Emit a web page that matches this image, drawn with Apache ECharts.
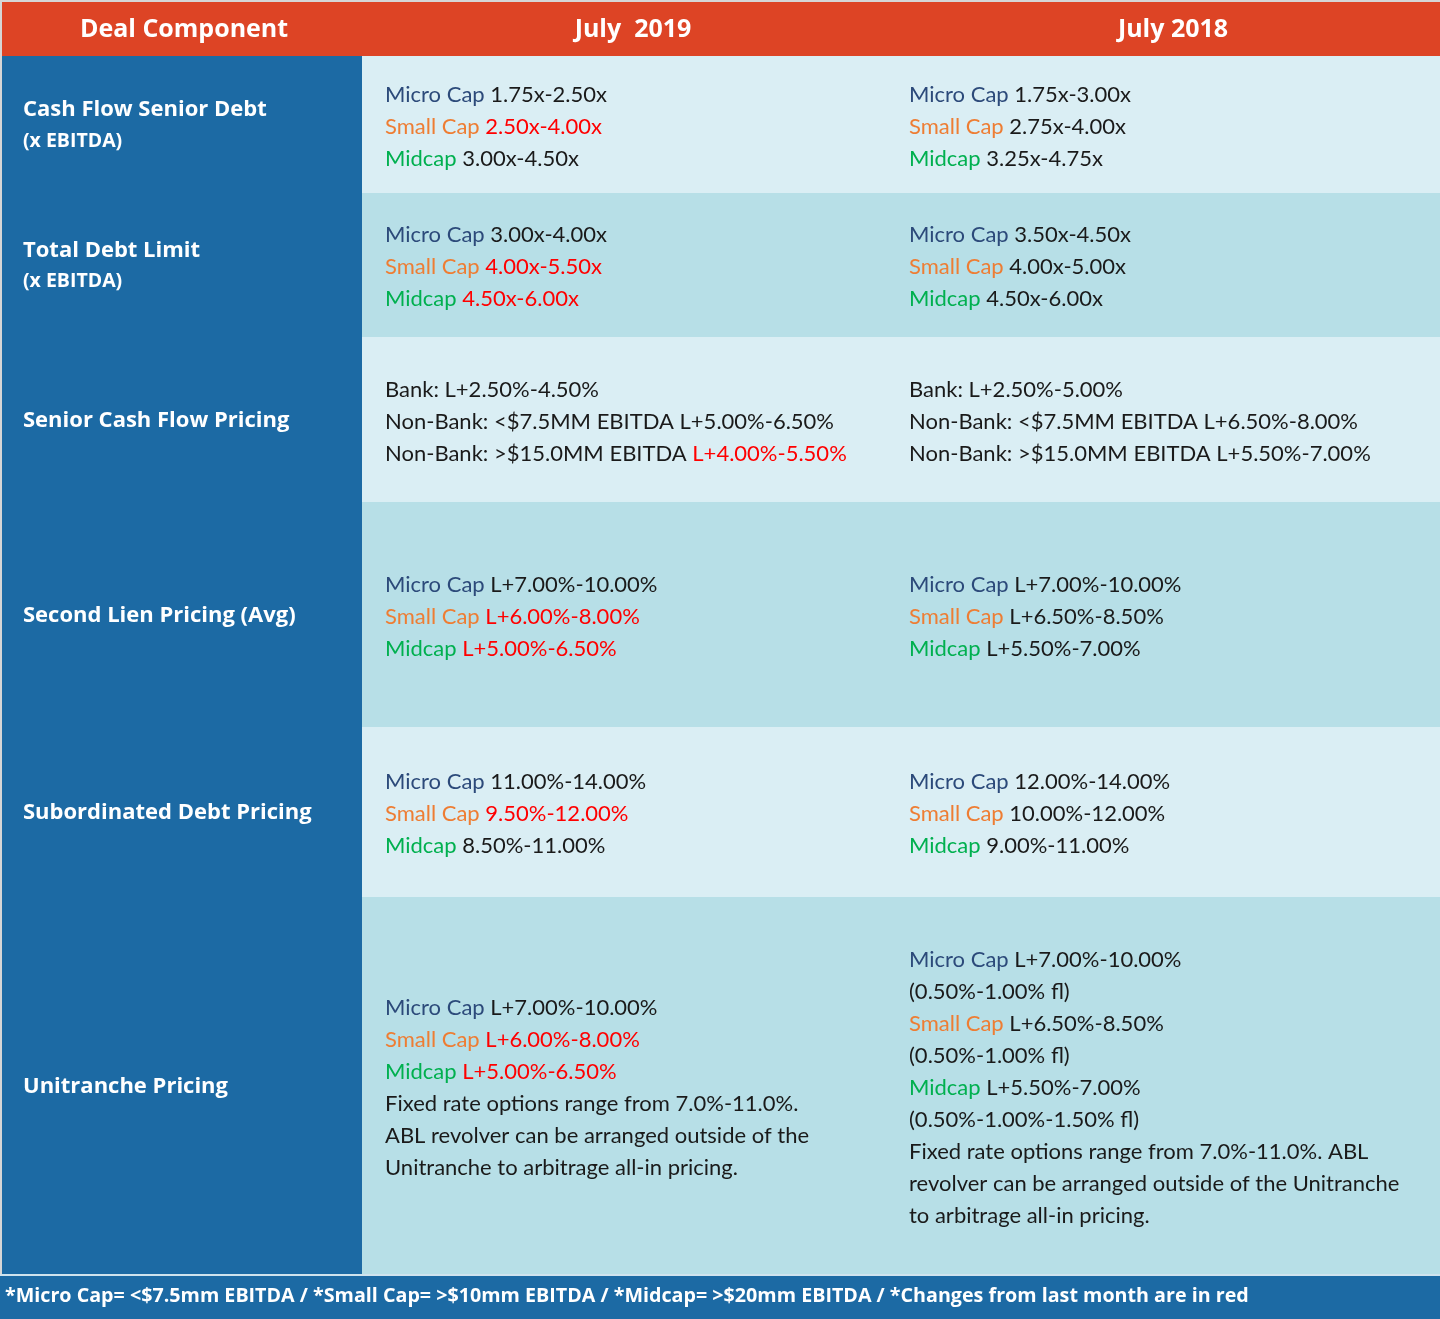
<!DOCTYPE html>
<html lang="en">
<head>
    <meta charset="UTF-8">
    <title>Deal Component July 2019 vs July 2018</title>
    <script src="https://cdn.jsdelivr.net/npm/echarts@6/dist/echarts.min.js"></script>
    <style>
        html,body{
            margin:0;
            padding:0;
            background:#fff;
        }
        #main{width:1440px;height:1319px}
    </style>
</head>
<body>
    <div id="main"></div>
    <script>
        // table content ({m|..} micro cap, {s|..} small cap, {g|..} midcap, {r|..} changed = red)
        var headers = ['Deal Component', 'July  2019', 'July 2018'];
        var components = [
            ['Cash Flow Senior Debt', '(x EBITDA)'],
            ['Total Debt Limit', '(x EBITDA)'],
            ['Senior Cash Flow Pricing'],
            ['Second Lien Pricing (Avg)'],
            ['Subordinated Debt Pricing'],
            ['Unitranche Pricing']
        ];
        var july2019 = [
            ['{m|Micro Cap} 1.75x-2.50x', '{s|Small Cap} {r|2.50x-4.00x}', '{g|Midcap} 3.00x-4.50x'],
            ['{m|Micro Cap} 3.00x-4.00x', '{s|Small Cap} {r|4.00x-5.50x}', '{g|Midcap} {r|4.50x-6.00x}'],
            ['Bank: L+2.50%-4.50%', 'Non-Bank: <$7.5MM EBITDA L+5.00%-6.50%', 'Non-Bank: >$15.0MM EBITDA {r|L+4.00%-5.50%}'],
            ['{m|Micro Cap} L+7.00%-10.00%', '{s|Small Cap} {r|L+6.00%-8.00%}', '{g|Midcap} {r|L+5.00%-6.50%}'],
            ['{m|Micro Cap} 11.00%-14.00%', '{s|Small Cap} {r|9.50%-12.00%}', '{g|Midcap} 8.50%-11.00%'],
            ['{m|Micro Cap} L+7.00%-10.00%', '{s|Small Cap} {r|L+6.00%-8.00%}', '{g|Midcap} {r|L+5.00%-6.50%}',
             'Fixed rate options range from 7.0%-11.0%.', 'ABL revolver can be arranged outside of the',
             'Unitranche to arbitrage all-in pricing.']
        ];
        var july2018 = [
            ['{m|Micro Cap} 1.75x-3.00x', '{s|Small Cap} 2.75x-4.00x', '{g|Midcap} 3.25x-4.75x'],
            ['{m|Micro Cap} 3.50x-4.50x', '{s|Small Cap} 4.00x-5.00x', '{g|Midcap} 4.50x-6.00x'],
            ['Bank: L+2.50%-5.00%', 'Non-Bank: <$7.5MM EBITDA L+6.50%-8.00%', 'Non-Bank: >$15.0MM EBITDA L+5.50%-7.00%'],
            ['{m|Micro Cap} L+7.00%-10.00%', '{s|Small Cap} L+6.50%-8.50%', '{g|Midcap} L+5.50%-7.00%'],
            ['{m|Micro Cap} 12.00%-14.00%', '{s|Small Cap} 10.00%-12.00%', '{g|Midcap} 9.00%-11.00%'],
            ['{m|Micro Cap} L+7.00%-10.00%', '(0.50%-1.00% fl)', '{s|Small Cap} L+6.50%-8.50%', '(0.50%-1.00% fl)',
             '{g|Midcap} L+5.50%-7.00%', '(0.50%-1.00%-1.50% fl)', 'Fixed rate options range from 7.0%-11.0%. ABL',
             'revolver can be arranged outside of the Unitranche', 'to arbitrage all-in pricing.']
        ];
        var footnote = '*Micro Cap= <$7.5mm EBITDA / *Small Cap= >$10mm EBITDA / *Midcap= >$20mm EBITDA / *Changes from last month are in red';

        // layout
        var W = 1440, H = 1319;
        var rowEdges = [56, 193, 337, 502, 727, 897, 1274];
        var colX = [2, 362];
        var textX = [23, 385, 909];
        var headCenters = [184, 633, 1173];
        var FONT = 'Lato, "Noto Sans", sans-serif';
        var BOLD = '"Open Sans", Lato, sans-serif';
        var RED = '#DD4425', BLUE = '#1C6AA4', LIGHT = '#DAEEF4', DARK = '#B7DFE7';
        var FS = 22;

        var cellRich = {
            m: {fill: '#2C4A7A', fontSize: FS, lineHeight: 32, fontFamily: FONT},
            s: {fill: '#EE7D33', fontSize: FS, lineHeight: 32, fontFamily: FONT},
            g: {fill: '#00B04F', fontSize: FS, lineHeight: 32, fontFamily: FONT},
            r: {fill: '#FF0000', fontSize: FS, lineHeight: 32, fontFamily: FONT}
        };

        var els = [];
        els.push({type: 'rect', shape: {x: 0, y: 0, width: W, height: H}, style: {fill: '#D6D6D6'}, silent: true});
        // header band
        els.push({type: 'rect', shape: {x: 2, y: 2, width: W - 2, height: rowEdges[0] - 2}, style: {fill: RED}});
        headers.forEach(function (h, i) {
            els.push({type: 'text', x: headCenters[i], y: 30, style: {
                text: h, fill: '#fff', fontFamily: BOLD, fontWeight: 'bold', fontSize: 25,
                align: 'center', verticalAlign: 'middle'}});
        });
        // left column
        els.push({type: 'rect', shape: {x: colX[0], y: rowEdges[0], width: colX[1] - colX[0], height: rowEdges[6] - rowEdges[0]}, style: {fill: BLUE}});

        components.forEach(function (label, i) {
            var y0 = rowEdges[i], y1 = rowEdges[i + 1], cy = (y0 + y1) / 2;
            els.push({type: 'rect', shape: {x: colX[1], y: y0, width: W - colX[1], height: y1 - y0},
                style: {fill: i % 2 ? DARK : LIGHT}});
            var lab = '{b|' + label[0] + '}' + (label[1] ? '\n{c|' + label[1] + '}' : '');
            els.push({type: 'text', x: textX[0], y: cy + 1, style: {
                text: lab, fill: '#fff', verticalAlign: 'middle',
                rich: {
                    b: {fill: '#fff', fontFamily: BOLD, fontWeight: 'bold', fontSize: 22, lineHeight: 31},
                    c: {fill: '#fff', fontFamily: BOLD, fontWeight: 'bold', fontSize: 19.5, lineHeight: 31}
                }}});
            [july2019[i], july2018[i]].forEach(function (lines, k) {
                els.push({type: 'text', x: textX[k + 1], y: cy + 2, style: {
                    text: lines.join('\n'), fill: '#1A1A1A', fontFamily: FONT, fontSize: FS, lineHeight: 32,
                    verticalAlign: 'middle', rich: cellRich}});
            });
        });

        // footer
        els.push({type: 'rect', shape: {x: 0, y: 1274, width: W, height: 2}, style: {fill: '#CFE3EE'}});
        els.push({type: 'rect', shape: {x: 0, y: 1276, width: W, height: H - 1276}, style: {fill: BLUE}});
        els.push({type: 'text', x: 5, y: 1296, style: {
            text: footnote, fill: '#fff', fontFamily: BOLD, fontWeight: 'bold', fontSize: 19.7,
            verticalAlign: 'middle'}});

        var myChart = echarts.init(document.getElementById('main'));
        myChart.setOption({
            animation: false,
            graphic: {elements: els}
        });
    </script>
</body>
</html>
